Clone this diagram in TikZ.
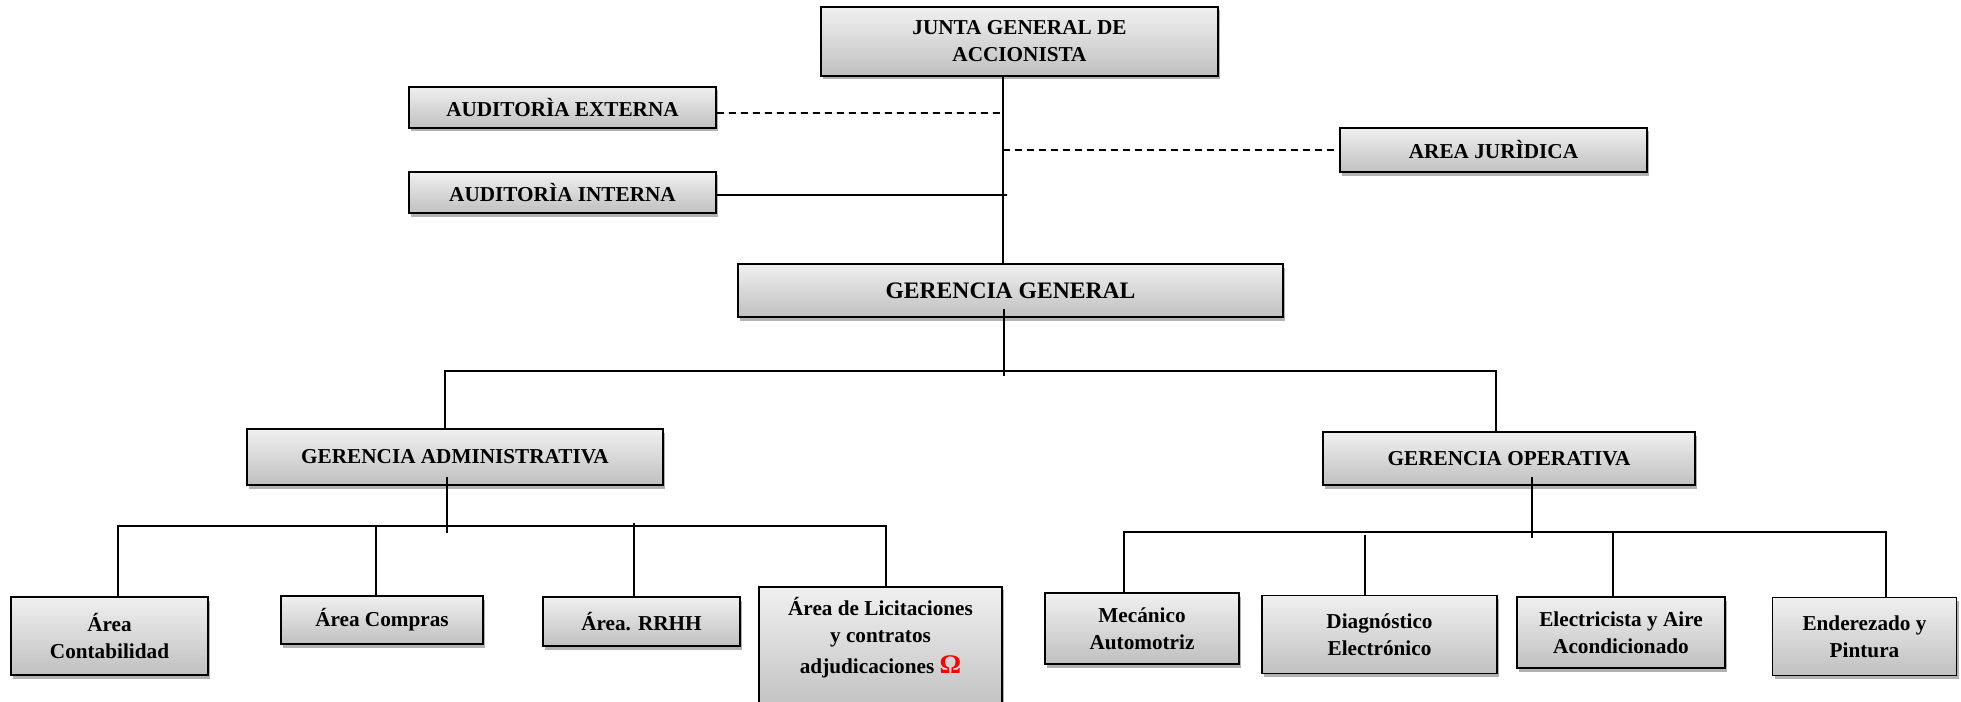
\documentclass[tikz,border=0pt]{standalone}
\usepackage{fontspec}
\setmainfont{Liberation Serif}
\usetikzlibrary{shadows}
\definecolor{boxtop}{RGB}{240,240,240}
\definecolor{boxbot}{RGB}{192,192,192}
\begin{document}
\begin{tikzpicture}[x=1bp,y=-1bp,
  orgbox/.style={draw=black, line width=1.8bp, top color=boxtop, bottom color=boxbot,
    drop shadow={shadow xshift=2bp, shadow yshift=-3.5bp, opacity=0.3, fill=black},
    inner sep=0pt, align=center, font=\bfseries\fontsize{21.3}{27}\selectfont},
  sz/.style 2 args={minimum width=#1bp, minimum height=#2bp},
  conn/.style={line width=1.7bp, draw=black},
  dconn/.style={conn, dash pattern=on 7bp off 5bp}]
\useasboundingbox (0,0) rectangle (1961,702);

% boxes
\node[orgbox, sz={397}{69}] (junta) at (1019.5,41.5) {JUNTA GENERAL DE\\ACCIONISTA};
\node[orgbox, sz={307}{41}] (ext) at (562.5,107.5) {AUDITORÌA EXTERNA};
\node[orgbox, sz={307}{41}] (int) at (562.5,192.5) {AUDITORÌA INTERNA};
\node[orgbox, sz={307}{44}] (jur) at (1493.5,150) {AREA JURÌDICA};
\node[orgbox, sz={545}{53}, font=\bfseries\fontsize{23.7}{28}\selectfont] (gg) at (1010.5,290.5) {GERENCIA GENERAL};
\node[orgbox, sz={416}{56}] (ga) at (455,457) {GERENCIA ADMINISTRATIVA};
\node[orgbox, sz={372}{53}] (go) at (1509,458.5) {GERENCIA OPERATIVA};
\node[orgbox, sz={197}{78}] (cont) at (109.5,636) {Área\\Contabilidad};
\node[orgbox, sz={202}{48}] (comp) at (382,620) {Área Compras};
\node[orgbox, sz={197}{49}] (rrhh) at (641.5,621.5) {Área. RRHH};
\node[orgbox, anchor=north] (lic) at (880.5,586)
  {\parbox[c][126bp][t]{243bp}{\centering\vspace*{10bp}Área de Licitaciones\\y contratos\\[5bp]adjudicaciones {\color{red}\fontsize{27}{27}\selectfont Ω}}};
\node[orgbox, sz={194}{71}] (mec) at (1142,628.5) {Mecánico\\Automotriz};
\node[orgbox, sz={235}{78}] (diag) at (1379.5,634.5) {Diagnóstico\\Electrónico};
\node[orgbox, sz={208}{71}] (elec) at (1621,632.5) {Electricista y Aire\\Acondicionado};
\node[orgbox, sz={184}{78}] (ende) at (1864.5,636.5) {Enderezado y\\Pintura};

% top spine
\coordinate (sp) at (1003,0);
\draw[conn] (sp |- junta.south) -- (sp |- gg.north);
\coordinate (extJ) at (1003,113);
\draw[dconn] ([yshift=-5.5bp]ext.east) -- (extJ);
\draw[dconn] (sp |- jur.west) -- (jur.west);
\coordinate (intJ) at (1007,195);
\draw[conn] ([yshift=-2.5bp]int.east) -- (intJ);

% gerencia general branch
\coordinate (ggIn) at (1004,309);
\coordinate (ggOut) at (1004,376);
\draw[conn] (ggIn) -- (ggOut);
\coordinate (gaTop) at (445,371);
\coordinate (goTop) at (1496,371);
\draw[conn] (gaTop |- ga.north) -- (gaTop) -- (goTop) -- (goTop |- go.north);

% administrativa branch
\coordinate (gaIn) at (447,477);
\coordinate (gaOut) at (447,533);
\draw[conn] (gaIn) -- (gaOut);
\coordinate (aL) at (118,526);
\coordinate (aC) at (376,526);
\coordinate (aH) at (634,523);
\coordinate (aR) at (886,526);
\draw[conn] (aL |- cont.north) -- (aL) -- (aR) -- (aR |- lic.north);
\draw[conn] (aC) -- (aC |- comp.north);
\draw[conn] (aH) -- (aH |- rrhh.north);

% operativa branch
\coordinate (goIn) at (1532,477);
\coordinate (goOut) at (1532,538);
\draw[conn] (goIn) -- (goOut);
\coordinate (oL) at (1124,532);
\coordinate (oR) at (1886,532);
\coordinate (oD) at (1365,535);
\coordinate (oE) at (1613,532);
\draw[conn] (oL |- mec.north) -- (oL) -- (oR) -- (oR |- ende.north);
\draw[conn] (oD) -- (oD |- diag.north);
\draw[conn] (oE) -- (oE |- elec.north);
\end{tikzpicture}
\end{document}
